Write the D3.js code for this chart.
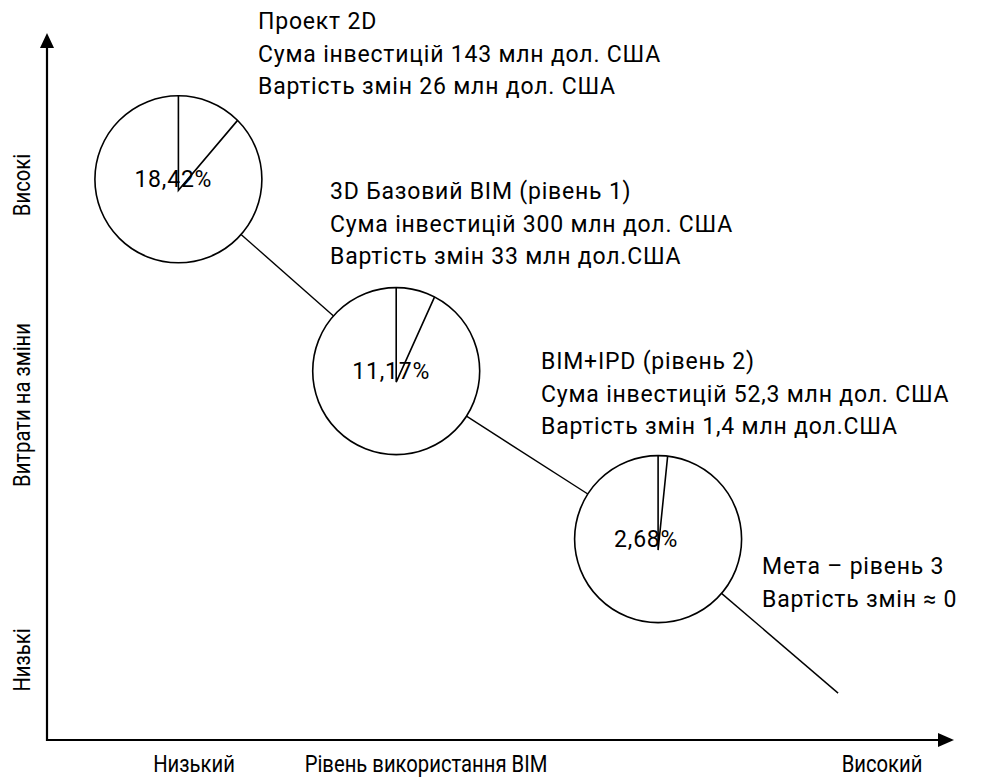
<!DOCTYPE html>
<html>
<head>
<meta charset="utf-8">
<script src="https://cdn.jsdelivr.net/npm/d3@7"></script>
<style>
  html, body { margin: 0; padding: 0; background: #fff; }
  svg text { font-family: Roboto, "Noto Sans", sans-serif; fill: #000; }
  svg text.ann { letter-spacing: 0.8px; }
</style>
</head>
<body>
<svg id="chart" width="981" height="777"></svg>
<script>
// ---- data ----
const stages = ["Проект 2D", "3D Базовий BIM (рівень 1)", "BIM+IPD (рівень 2)", "Мета – рівень 3"];
const bimLevel = [14.6, 38.8, 67.9, 87.9];      // position along "Рівень використання BIM" (0–100)
const changeCost = [80.1, 52.7, 28.7, 6.7];     // position along "Витрати на зміни" (0–100)
const changeShare = [18.42, 11.17, 2.68, null]; // % share of change cost (pie slice)
const shareLabels = ["18,42%", "11,17%", "2,68%", null];
const investLines = ["Сума інвестицій 143 млн дол. США", "Сума інвестицій 300 млн дол. США", "Сума інвестицій 52,3 млн дол. США", null];
const costLines = ["Вартість змін 26 млн дол. США", "Вартість змін 33 млн дол.США", "Вартість змін 1,4 млн дол.США", "Вартість змін ≈ 0"];
const xAxisLabels = ["Низький", "Рівень використання BIM", "Високий"];
const yAxisLabels = ["Низькі", "Витрати на зміни", "Високі"];

// ---- layout ----
const svg = d3.select("#chart");
const x = d3.scaleLinear().domain([0, 100]).range([47, 947]);
const y = d3.scaleLinear().domain([0, 100]).range([740, 40]);
const angle = d3.scaleLinear().domain([0, 100]).range([0, 245 * Math.PI / 180]);
const R = 83.5;
const FS = 23;

// axes
const ax = svg.append("g");
ax.append("line").attr("x1", 47).attr("y1", 741).attr("x2", 47).attr("y2", 46)
  .attr("stroke", "#000").attr("stroke-width", 2.2);
ax.append("path").attr("d", "M47,33 L40,48 L54,48 Z").attr("fill", "#000");
ax.append("line").attr("x1", 46).attr("y1", 740).attr("x2", 940).attr("y2", 740)
  .attr("stroke", "#000").attr("stroke-width", 2.2);
ax.append("path").attr("d", "M954,740 L938,733 L938,747 Z").attr("fill", "#000");

// axis labels (slightly condensed)
const AX_FS = 23, SQUEEZE = 0.88;
const xLabelPos = [194, 426, 882];
svg.selectAll("text.xl").data(xAxisLabels).join("text").attr("class", "xl")
  .attr("transform", (d, i) => `translate(${xLabelPos[i]},772) scale(${SQUEEZE},1)`)
  .attr("text-anchor", "middle").attr("font-size", AX_FS).text(d => d);
const yLabelPos = [660, 405, 185];
svg.selectAll("text.yl").data(yAxisLabels).join("text").attr("class", "yl")
  .attr("transform", (d, i) => `translate(30,${yLabelPos[i]}) rotate(-90) scale(${SQUEEZE},1)`)
  .attr("text-anchor", "middle").attr("font-size", AX_FS).text(d => d);

// points
const pts = stages.map((s, i) => ({
  name: s, cx: x(bimLevel[i]), cy: y(changeCost[i]),
  r: changeShare[i] == null ? 0 : R, share: changeShare[i], label: shareLabels[i]
}));

// connectors
for (let i = 0; i < pts.length - 1; i++) {
  const a = pts[i], b = pts[i + 1];
  const dx = b.cx - a.cx, dy = b.cy - a.cy, L = Math.hypot(dx, dy);
  const ux = dx / L, uy = dy / L;
  svg.append("line")
    .attr("x1", a.cx + ux * a.r).attr("y1", a.cy + uy * a.r)
    .attr("x2", b.cx - ux * b.r).attr("y2", b.cy - uy * b.r)
    .attr("stroke", "#000").attr("stroke-width", 1.4);
}

// pies
const pies = svg.selectAll("g.pie").data(pts.filter(p => p.share != null)).join("g").attr("class", "pie");
pies.append("circle").attr("cx", d => d.cx).attr("cy", d => d.cy).attr("r", d => d.r)
  .attr("fill", "#fff").attr("stroke", "#000").attr("stroke-width", 1.6);
pies.append("path").attr("fill", "none").attr("stroke", "#000").attr("stroke-width", 1.6)
  .attr("d", d => {
    const a = angle(d.share);
    const hx = d.cx, hy = d.cy + 11;
    return `M${d.cx},${d.cy - d.r} L${hx},${hy} L${d.cx + d.r * Math.sin(a)},${d.cy - d.r * Math.cos(a)}`;
  });
pies.append("text").attr("class", "ann").attr("x", d => d.cx - 44).attr("y", d => d.cy + 8)
  .attr("font-size", FS).text(d => d.label);

// annotations
const labelPos = [[258, 29], [330, 199], [541, 369], [762, 574]];
const lineGap = 32.5;
stages.forEach((s, i) => {
  const lines = [s, investLines[i], costLines[i]].filter(v => v != null);
  const t = svg.append("text").attr("class", "ann").attr("font-size", FS);
  lines.forEach((l, j) => {
    t.append("tspan").attr("x", labelPos[i][0]).attr("y", labelPos[i][1] + j * lineGap).text(l);
  });
});
</script>
</body>
</html>
